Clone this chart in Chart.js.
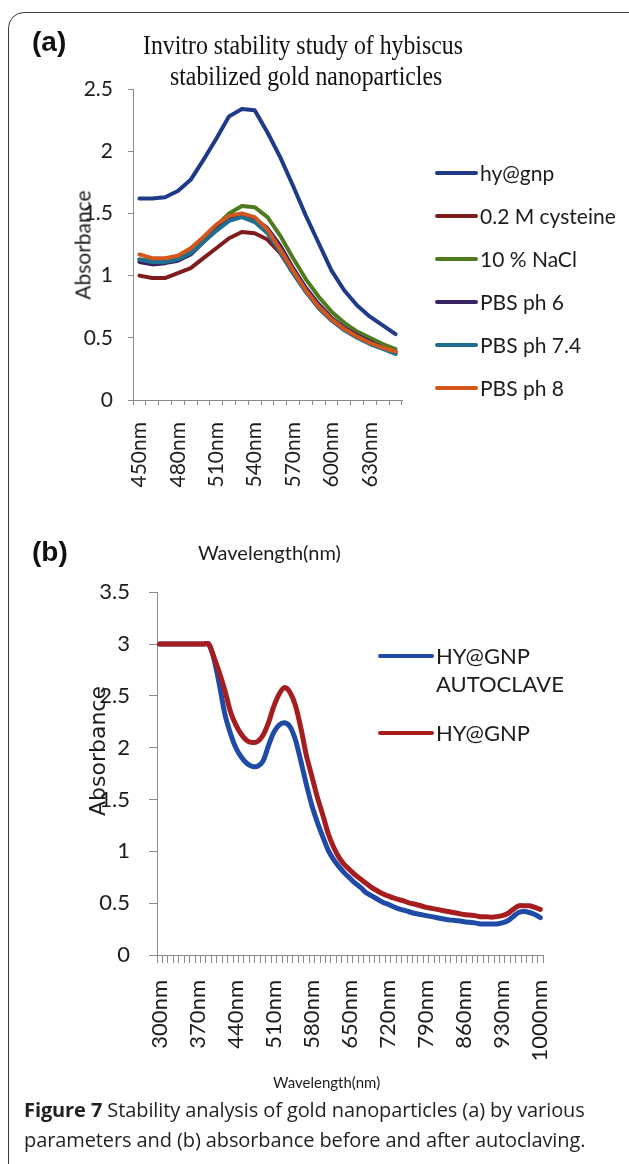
<!DOCTYPE html>
<html>
<head>
<meta charset="utf-8">
<script src="https://cdn.jsdelivr.net/npm/chart.js@4.4.1/dist/chart.umd.min.js"></script>
<style>
  body { margin: 0; width: 629px; height: 1164px; overflow: hidden; background: #fff; position: relative; font-family: Lato, sans-serif; color: #1c1c1c; }
  .frame { position: absolute; left: 8px; top: 12px; width: 660px; height: 1170px; border: 1.5px solid #3c3c3c; border-radius: 16px; }
  canvas { position: absolute; left: 0; }
  #chartA { top: 0; }
  #chartB { top: 560px; }
  .t { position: absolute; white-space: nowrap; line-height: 28px; height: 28px; }
  .panel { font-family: "Liberation Sans", Arial, sans-serif; font-weight: bold; font-size: 28px; color: #111; }
  .title { font-family: "Liberation Serif", "Times New Roman", serif; font-size: 28px; color: #111; transform-origin: 0 50%; transform: scaleX(0.85); }
  .leg { font-size: 21px; }
  .legline { position: absolute; height: 4px; border-radius: 2px; }
  .ylab { transform-origin: 50% 50%; transform: translate(-50%, -50%) rotate(-90deg); line-height: 1; height: auto; }
  .cap { font-family: "Open Sans", sans-serif; font-size: 20px; color: #231f20; line-height: 30px; height: auto; letter-spacing: -0.1px; }
</style>
</head>
<body>
<div class="frame"></div>
<canvas id="chartA" width="629" height="520"></canvas>
<canvas id="chartB" width="629" height="540"></canvas>

<div class="t panel" style="left:32px; top:28px;">(a)</div>
<div class="t title" style="left:143px; top:31px;">Invitro stability study of hybiscus</div>
<div class="t title" style="left:170px; top:62px;">stabilized gold nanoparticles</div>
<div class="t ylab" style="left:82px; top:245px; font-size:21px;">Absorbance</div>
<div id="legendA"></div>

<div class="t panel" style="left:32px; top:538px;">(b)</div>
<div class="t" style="left:198px; top:538px; font-size:20px;">Wavelength(nm)</div>
<div class="t ylab" style="left:98px; top:751px; font-family:'DejaVu Sans', sans-serif; font-size:22px;">Absorbance</div>
<div id="legendB"></div>
<div class="t" style="left:273px; top:1068px; font-size:15px;">Wavelength(nm)</div>

<div class="t cap" style="left:24px; top:1095px;"><b>Figure 7</b> Stability analysis of gold nanoparticles (a) by various<br>parameters and (b) absorbance before and after autoclaving.</div>

<script>
// panel (a): wavelength in nm, one point every 10 nm
var wavelengthsA = [450, 460, 470, 480, 490, 500, 510, 520, 530, 540, 550, 560, 570, 580, 590, 600, 610, 620, 630, 640, 650];
var hyGnp = [1.62, 1.62, 1.63, 1.68, 1.77, 1.93, 2.10, 2.28, 2.34, 2.33, 2.15, 1.95, 1.72, 1.48, 1.26, 1.04, 0.88, 0.76, 0.67, 0.60, 0.53];
var cysteine = [1.00, 0.98, 0.98, 1.02, 1.06, 1.14, 1.22, 1.30, 1.35, 1.34, 1.29, 1.18, 1.02, 0.87, 0.74, 0.64, 0.57, 0.51, 0.47, 0.43, 0.39];
var nacl = [1.13, 1.12, 1.12, 1.15, 1.21, 1.30, 1.40, 1.50, 1.56, 1.55, 1.47, 1.32, 1.14, 0.97, 0.83, 0.71, 0.62, 0.55, 0.50, 0.45, 0.41];
var pbs6 = [1.11, 1.09, 1.10, 1.12, 1.17, 1.27, 1.37, 1.45, 1.48, 1.46, 1.38, 1.24, 1.06, 0.90, 0.77, 0.66, 0.58, 0.52, 0.47, 0.42, 0.38];
var pbs74 = [1.13, 1.11, 1.11, 1.13, 1.18, 1.27, 1.36, 1.44, 1.47, 1.43, 1.34, 1.19, 1.02, 0.87, 0.74, 0.64, 0.56, 0.50, 0.45, 0.41, 0.37];
var pbs8 = [1.17, 1.14, 1.14, 1.16, 1.22, 1.31, 1.41, 1.48, 1.50, 1.47, 1.37, 1.21, 1.04, 0.88, 0.75, 0.65, 0.57, 0.51, 0.46, 0.42, 0.39];
var seriesNamesA = ['hy@gnp', '0.2 M cysteine', '10 % NaCl', 'PBS ph 6', 'PBS ph 7.4', 'PBS ph 8'];

// panel (b): 300 to 1000 nm, one point every 10 nm
var wavelengthsB = [300, 310, 320, 330, 340, 350, 360, 370, 380, 390,
  400, 410, 420, 430, 440, 450, 460, 470, 480, 490,
  500, 510, 520, 530, 540, 550, 560, 570, 580, 590,
  600, 610, 620, 630, 640, 650, 660, 670, 680, 690,
  700, 710, 720, 730, 740, 750, 760, 770, 780, 790,
  800, 810, 820, 830, 840, 850, 860, 870, 880, 890,
  900, 910, 920, 930, 940, 950, 960, 970, 980, 990, 1000];
var autoclaved = [3.00, 3.00, 3.00, 3.00, 3.00, 3.00, 3.00, 3.00, 3.00, 3.00,
  2.85, 2.60, 2.32, 2.14, 2.00, 1.91, 1.85, 1.82, 1.82, 1.87,
  2.02, 2.15, 2.22, 2.24, 2.20, 2.07, 1.86, 1.64, 1.44, 1.28,
  1.14, 1.01, 0.92, 0.85, 0.79, 0.74, 0.69, 0.65, 0.60, 0.57,
  0.54, 0.51, 0.49, 0.465, 0.445, 0.43, 0.415, 0.40, 0.39, 0.38,
  0.37, 0.36, 0.35, 0.34, 0.335, 0.33, 0.32, 0.315, 0.31, 0.30,
  0.30, 0.30, 0.30, 0.31, 0.33, 0.37, 0.41, 0.42, 0.41, 0.39, 0.36];
var beforeAutoclave = [3.00, 3.00, 3.00, 3.00, 3.00, 3.00, 3.00, 3.00, 3.00, 3.00,
  2.87, 2.72, 2.55, 2.35, 2.22, 2.13, 2.07, 2.05, 2.06, 2.12,
  2.24, 2.40, 2.52, 2.58, 2.53, 2.40, 2.18, 1.92, 1.72, 1.52,
  1.35, 1.17, 1.04, 0.94, 0.87, 0.82, 0.77, 0.73, 0.69, 0.65,
  0.62, 0.59, 0.57, 0.55, 0.535, 0.52, 0.50, 0.49, 0.475, 0.46,
  0.45, 0.44, 0.43, 0.42, 0.41, 0.40, 0.39, 0.385, 0.38, 0.37,
  0.37, 0.365, 0.37, 0.38, 0.40, 0.44, 0.475, 0.475, 0.475, 0.46, 0.44];

var coloursA = ['#1f3a86', '#7e1c1c', '#4f7b1f', '#3a2162', '#1f7090', '#d3561d'];
var coloursB = ['#1f4aa6', '#a51d1f'];

(function () {
  'use strict';

  var AXIS = '#8a8a8a';
  var INK = '#1c1c1c';

  function addLegend(holderId, items) {
    var holder = document.getElementById(holderId);
    items.forEach(function (it) {
      var line = document.createElement('div');
      line.className = 'legline';
      line.style.left = it.x + 'px';
      line.style.width = it.w + 'px';
      line.style.top = (it.y - 2) + 'px';
      line.style.background = it.colour;
      holder.appendChild(line);
      var txt = document.createElement('div');
      txt.className = 't leg';
      txt.style.left = (it.x + it.w + 2) + 'px';
      txt.style.top = (it.y - 14) + 'px';
      txt.style.fontSize = it.size + 'px';
      txt.innerHTML = it.text;
      holder.appendChild(txt);
    });
  }

  // 2.0 -> "2", 0.5 -> "0.5", like the original axis
  function plainNumber(v) {
    return String(Math.round(v * 10) / 10);
  }

  function axes(opts) {
    return {
      x: {
        type: 'category',
        offset: true,
        border: { color: AXIS, width: 1 },
        grid: { drawOnChartArea: false, drawTicks: true, tickLength: opts.xTick, color: AXIS, offset: true },
        ticks: {
          autoSkip: false,
          minRotation: 90,
          maxRotation: 90,
          padding: opts.xPad,
          color: INK,
          font: { family: 'Lato', size: opts.xFont },
          callback: function (v, i) { return i % opts.every === 0 ? opts.labels[i] + 'nm' : ''; }
        },
        afterFit: function (s) { s.height = opts.xHeight; }
      },
      y: {
        min: 0,
        max: opts.yMax,
        border: { color: AXIS, width: 1 },
        grid: { drawOnChartArea: false, drawTicks: true, tickLength: opts.yTick, color: AXIS },
        ticks: { stepSize: 0.5, padding: opts.yPad, color: INK, font: { family: 'Lato', size: opts.yFont }, callback: plainNumber },
        afterFit: function (s) { s.width = opts.yWidth; }
      }
    };
  }

  function lineSet(label, data, colour, width, order, tension) {
    return {
      label: label,
      data: data,
      borderColor: colour,
      backgroundColor: colour,
      borderWidth: width,
      pointRadius: 0,
      tension: tension,
      borderCapStyle: 'round',
      borderJoinStyle: 'round',
      order: order
    };
  }

  var dataA = [hyGnp, cysteine, nacl, pbs6, pbs74, pbs8];
  new Chart(document.getElementById('chartA'), {
    type: 'line',
    data: {
      labels: wavelengthsA,
      datasets: dataA.map(function (d, i) {
        return lineSet(seriesNamesA[i], d, coloursA[i], 4, dataA.length - i, 0);
      })
    },
    options: {
      responsive: false,
      animation: false,
      layout: { padding: { top: 89, right: 227, bottom: 0, left: 0 } },
      plugins: { legend: { display: false }, tooltip: { enabled: false } },
      scales: axes({ labels: wavelengthsA, every: 3, xTick: 5, xPad: 17, xFont: 21, xHeight: 120,
        yMax: 2.5, yTick: 5, yPad: 15, yFont: 21, yWidth: 133 })
    }
  });

  new Chart(document.getElementById('chartB'), {
    type: 'line',
    data: {
      labels: wavelengthsB,
      datasets: [
        lineSet('HY@GNP AUTOCLAVE', autoclaved, coloursB[0], 5, 1, 0.3),
        lineSet('HY@GNP', beforeAutoclave, coloursB[1], 5, 0, 0.3)
      ]
    },
    options: {
      responsive: false,
      animation: false,
      layout: { padding: { top: 12, right: 86, bottom: 0, left: 0 } },
      plugins: { legend: { display: false }, tooltip: { enabled: false } },
      scales: axes({ labels: wavelengthsB, every: 7, xTick: 8, xPad: 17, xFont: 22, xHeight: 145,
        yMax: 3.5, yTick: 8, yPad: 19, yFont: 22, yWidth: 157 })
    }
  });

  addLegend('legendA', seriesNamesA.map(function (name, i) {
    return { x: 435, w: 43, y: 173 + i * 43, colour: coloursA[i], text: name, size: 21 };
  }));
  addLegend('legendB', [
    { x: 378, w: 56, y: 656, colour: coloursB[0], text: 'HY@GNP<br>AUTOCLAVE', size: 22 },
    { x: 378, w: 56, y: 733, colour: coloursB[1], text: 'HY@GNP', size: 22 }
  ]);
})();
</script>
</body>
</html>
